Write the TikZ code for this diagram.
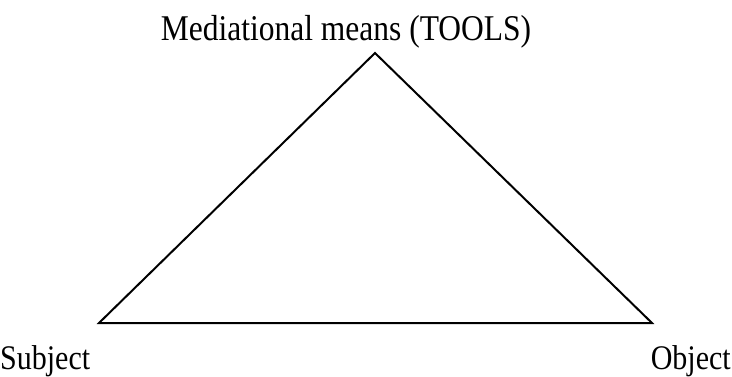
\documentclass[tikz,border=0pt]{standalone}
\usepackage{fontspec}
\setmainfont{Liberation Serif}
\newcommand{\tallText}[1]{\scalebox{1}[1.15]{#1}}
\begin{document}
\begin{tikzpicture}[x=1pt,y=-1pt,
  lbl/.style={inner sep=0pt,font=\fontsize{30}{36}\selectfont},
  edge/.style={line width=2pt,line join=miter}]
\useasboundingbox (0,0) rectangle (732,376);
\coordinate (apex) at (375,53);
\coordinate (sub) at (99,323);
\coordinate (obj) at (652,323);
\draw[edge] (apex) -- (sub) -- (obj) -- cycle;
\node[lbl,font=\fontsize{31.5}{38}\selectfont,anchor=base] (tools) at (346,40) {\tallText{Mediational means (TOOLS)}};
\node[lbl,anchor=base west] (subject) at (0,369) {\tallText{Subject}};
\node[lbl,anchor=base east] (object) at (731,369) {\tallText{Object}};
\end{tikzpicture}
\end{document}
